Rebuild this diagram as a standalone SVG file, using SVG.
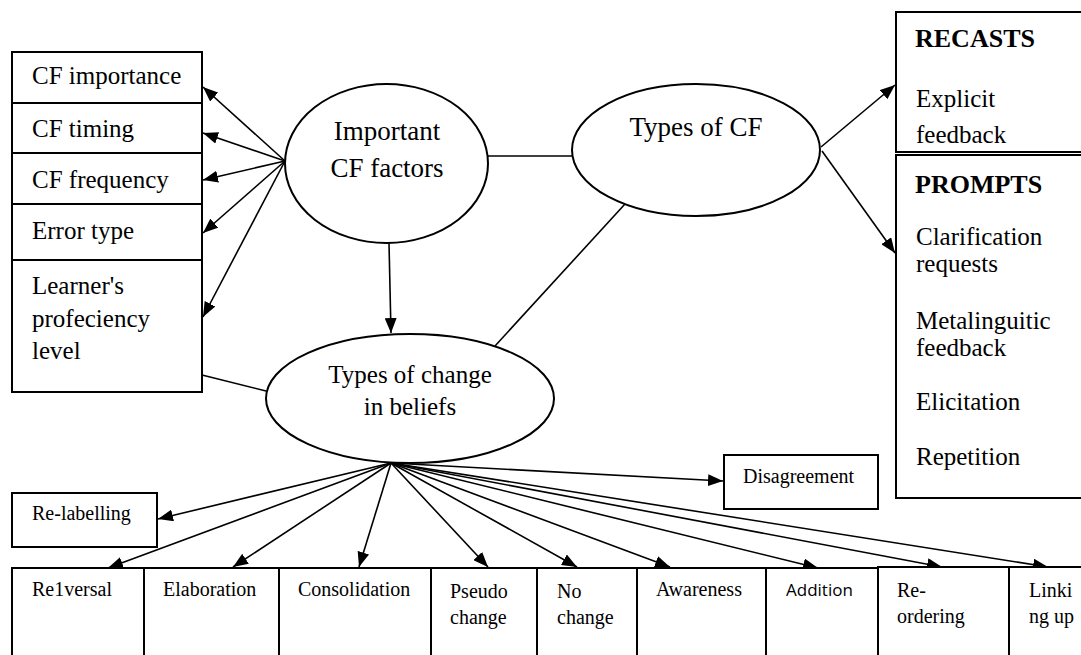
<svg xmlns="http://www.w3.org/2000/svg" width="1081" height="655" viewBox="0 0 1081 655">
<style>
.box{fill:#fff;stroke:#000;stroke-width:2}
.ell{fill:#fff;stroke:#000;stroke-width:2}
.ln{stroke:#000;stroke-width:1.6;fill:none}
.ar{stroke:#000;stroke-width:1.6;fill:none;marker-end:url(#ah)}
.t{font-family:"Liberation Serif","Times New Roman",serif;fill:#000}
.l{font-size:25px}
.e{font-size:27px}
.r{font-size:25px}
.b{font-size:26px;font-weight:bold}
.s{font-size:20px}
.sans{font-family:"Open Sans","Liberation Sans",sans-serif;font-size:17px;fill:#000}
</style>
<defs>
<marker id="ah" markerUnits="userSpaceOnUse" markerWidth="15" markerHeight="12" refX="15" refY="6" orient="auto">
<path d="M0,0 L15,6 L0,12 z" fill="#000"/>
</marker>
</defs>
<rect width="1081" height="655" fill="#fff"/>

<g id="connectors">
<line class="ar" x1="285" y1="161" x2="203" y2="87"/>
<line class="ar" x1="285" y1="161" x2="203" y2="133"/>
<line class="ar" x1="285" y1="161" x2="203" y2="180"/>
<line class="ar" x1="285" y1="161" x2="203" y2="233"/>
<line class="ar" x1="285" y1="161" x2="203" y2="317"/>
<line class="ln" x1="488" y1="156" x2="572" y2="156"/>
<line class="ar" x1="389" y1="243" x2="391" y2="333"/>
<line class="ln" x1="625" y1="204" x2="495" y2="346"/>
<line class="ln" x1="202" y1="375" x2="266" y2="391"/>
<line class="ar" x1="821" y1="147" x2="895" y2="85"/>
<line class="ar" x1="822" y1="151" x2="895" y2="253"/>
<line class="ar" x1="391" y1="463" x2="158" y2="519"/>
<line class="ar" x1="391" y1="463" x2="723" y2="481"/>
<line class="ar" x1="391" y1="463" x2="108" y2="568"/>
<line class="ar" x1="391" y1="463" x2="233" y2="567"/>
<line class="ar" x1="391" y1="463" x2="359" y2="567"/>
<line class="ar" x1="391" y1="463" x2="488" y2="567"/>
<line class="ar" x1="391" y1="463" x2="577" y2="567"/>
<line class="ar" x1="391" y1="463" x2="670" y2="567"/>
<line class="ar" x1="391" y1="463" x2="818" y2="568"/>
<line class="ar" x1="391" y1="463" x2="942" y2="567"/>
<line class="ar" x1="391" y1="463" x2="1048" y2="567"/>
</g>

<g id="cf-importance"><rect class="box" x="12" y="52" width="190" height="51"/><text class="t l" x="32" y="84">CF importance</text></g>
<g id="cf-timing"><rect class="box" x="12" y="103" width="190" height="50"/><text class="t l" x="32" y="137">CF timing</text></g>
<g id="cf-frequency"><rect class="box" x="12" y="153" width="190" height="51"/><text class="t l" x="32" y="188">CF frequency</text></g>
<g id="error-type"><rect class="box" x="12" y="204" width="190" height="56"/><text class="t l" x="32" y="239">Error type</text></g>
<g id="learner-level"><rect class="box" x="12" y="260" width="190" height="132"/>
<text class="t l" x="32" y="294">Learner's</text><text class="t l" x="32" y="327">profeciency</text><text class="t l" x="32" y="359">level</text></g>

<g id="important-cf-factors"><ellipse class="ell" cx="386.5" cy="163.5" rx="101.5" ry="79.5"/>
<text class="t e" x="387" y="140" text-anchor="middle">Important</text><text class="t e" x="387" y="177" text-anchor="middle">CF factors</text></g>

<g id="types-of-cf"><ellipse class="ell" cx="696" cy="150" rx="124" ry="66"/>
<text class="t e" x="696" y="136" text-anchor="middle">Types of CF</text></g>

<g id="types-of-change"><ellipse class="ell" cx="410" cy="398.5" rx="144" ry="64.5"/>
<text class="t r" x="410" y="383" text-anchor="middle">Types of change</text><text class="t r" x="410" y="415" text-anchor="middle">in beliefs</text></g>

<g id="recasts"><rect class="box" x="896" y="12" width="200" height="140"/>
<text class="t b" x="915" y="47">RECASTS</text>
<text class="t r" x="916" y="107">Explicit</text><text class="t r" x="916" y="143">feedback</text></g>

<g id="prompts"><rect class="box" x="896" y="155" width="200" height="343"/>
<text class="t b" x="915" y="193">PROMPTS</text>
<text class="t r" x="916" y="245">Clarification</text><text class="t r" x="916" y="272">requests</text>
<text class="t r" x="916" y="329">Metalinguitic</text><text class="t r" x="916" y="356">feedback</text>
<text class="t r" x="916" y="410">Elicitation</text>
<text class="t r" x="916" y="465">Repetition</text></g>

<g id="disagreement"><rect class="box" x="724" y="455" width="154" height="54"/><text class="t s" x="743" y="483">Disagreement</text></g>
<g id="re-labelling"><rect class="box" x="12" y="493" width="145" height="54"/><text class="t s" x="32" y="520">Re-labelling</text></g>

<g id="reversal"><rect class="box" x="12" y="568" width="132" height="100"/><text class="t s" x="32" y="596">Re1versal</text></g>
<g id="elaboration"><rect class="box" x="144" y="568" width="135" height="100"/><text class="t s" x="163" y="596">Elaboration</text></g>
<g id="consolidation"><rect class="box" x="279" y="568" width="152" height="100"/><text class="t s" x="298" y="596">Consolidation</text></g>
<g id="pseudo-change"><rect class="box" x="431" y="568" width="106" height="100"/><text class="t s" x="450" y="598">Pseudo</text><text class="t s" x="450" y="624">change</text></g>
<g id="no-change"><rect class="box" x="537" y="568" width="100" height="100"/><text class="t s" x="557" y="598">No</text><text class="t s" x="557" y="624">change</text></g>
<g id="awareness"><rect class="box" x="637" y="568" width="129" height="100"/><text class="t s" x="656" y="596">Awareness</text></g>
<g id="addition"><rect class="box" x="766" y="568" width="112" height="100"/><text class="sans" x="786" y="596">Addition</text></g>
<g id="re-ordering"><rect class="box" x="878" y="567" width="131" height="100"/><text class="t s" x="897" y="597">Re-</text><text class="t s" x="897" y="623">ordering</text></g>
<g id="linking-up"><rect class="box" x="1009" y="567" width="90" height="100"/><text class="t s" x="1029" y="597">Linki</text><text class="t s" x="1029" y="623">ng up</text></g>
</svg>
